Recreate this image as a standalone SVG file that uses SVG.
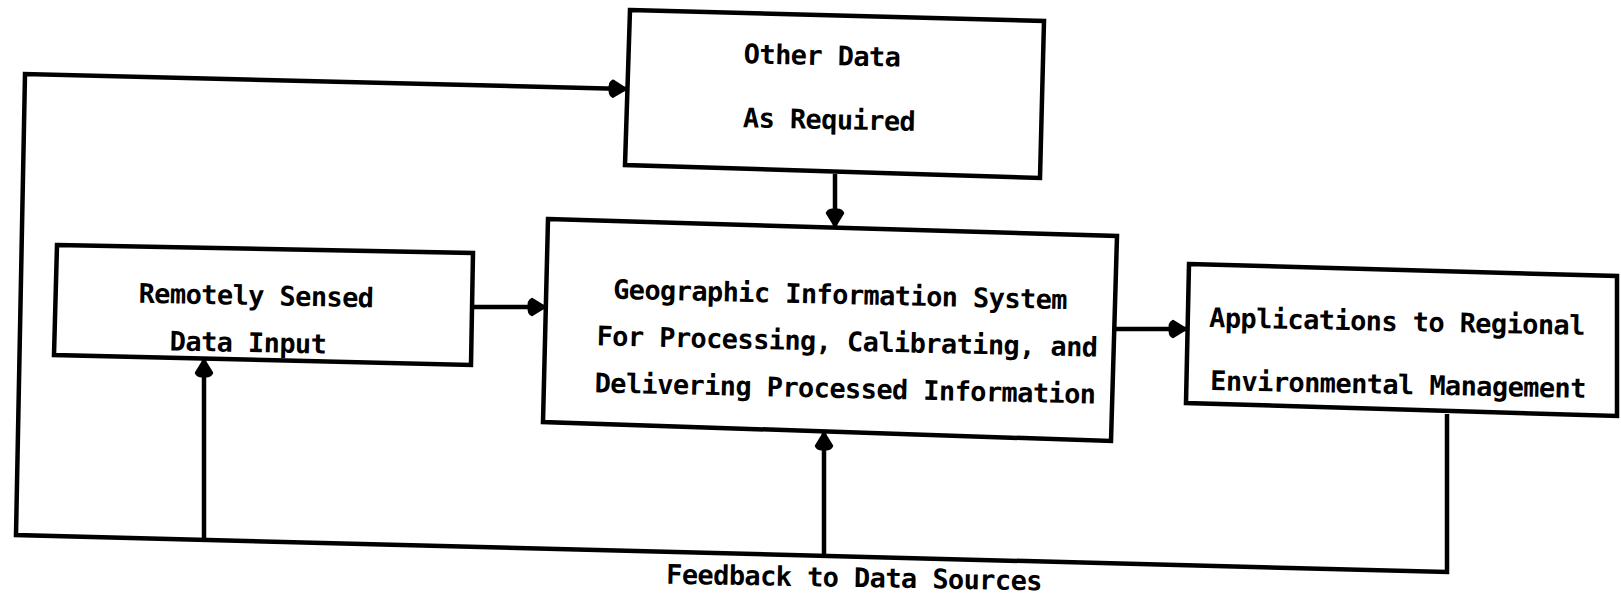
<svg xmlns="http://www.w3.org/2000/svg" width="1621" height="599" viewBox="0 0 1621 599">
<style>
.box{fill:#fff;stroke:#000;stroke-width:4.5;stroke-linejoin:miter}
.ln{fill:none;stroke:#000;stroke-width:4.5;stroke-linejoin:miter}
.t{font-family:"DejaVu Sans Mono","Liberation Mono",monospace;font-weight:bold;font-size:27px;letter-spacing:-0.6px;fill:#000;text-anchor:middle}
</style>
<defs>
<marker id="ah" markerUnits="userSpaceOnUse" markerWidth="26" markerHeight="24" viewBox="-20 -12 22 24" refX="0" refY="0" orient="auto">
<path d="M0,0 L-13,-8 Q-17,-6 -16,0 Q-17,6 -13,8 Z" fill="#000" stroke="#000" stroke-width="2.5" stroke-linejoin="round"/>
</marker>
</defs>
<rect width="1621" height="599" fill="#fff"/>
<g id="connectors">
<path class="ln" d="M1447,414 L1447,572 L16,535 L25,74 L626,89" marker-end="url(#ah)"/>
<path class="ln" d="M204,540 L204,360" marker-end="url(#ah)"/>
<path class="ln" d="M824,556 L824,433" marker-end="url(#ah)"/>
<path class="ln" d="M835,174 L835,226" marker-end="url(#ah)"/>
<path class="ln" d="M472,307 L545,307" marker-end="url(#ah)"/>
<path class="ln" d="M1114,329 L1186,329" marker-end="url(#ah)"/>
</g>
<g id="other-data">
<path class="box" d="M630,10 L1044,21 L1040,178 L625,165 Z"/>
<text class="t" x="822" y="65" transform="rotate(1.2 822 58)">Other Data</text>
<text class="t" x="829" y="129" transform="rotate(1.2 829 122)">As Required</text>
</g>
<g id="remote-sensed">
<path class="box" d="M57,245 L473,253 L471,365 L54,355 Z"/>
<text class="t" x="256" y="305" transform="rotate(1.1 256 298)">Remotely Sensed</text>
<text class="t" x="248" y="352" transform="rotate(1.1 248 345)">Data Input</text>
</g>
<g id="gis">
<path class="box" d="M548,219 L1117,236 L1111,441 L543,422 Z"/>
<text class="t" x="840" y="304" transform="rotate(1.3 840 297)">Geographic Information System</text>
<text class="t" x="847" y="351" transform="rotate(1.3 847 344)">For Processing, Calibrating, and</text>
<text class="t" x="845" y="398" transform="rotate(1.3 845 391)">Delivering Processed Information</text>
</g>
<g id="applications">
<path class="box" d="M1189,264 L1617,276 L1617,416 L1186,403 Z"/>
<text class="t" x="1397" y="331" transform="rotate(1.2 1397 324)">Applications to Regional</text>
<text class="t" x="1398" y="394" transform="rotate(1.2 1398 387)">Environmental Management</text>
</g>
<g id="feedback-label">
<text class="t" x="854" y="587" transform="rotate(1 854 580)">Feedback to Data Sources</text>
</g>
</svg>
